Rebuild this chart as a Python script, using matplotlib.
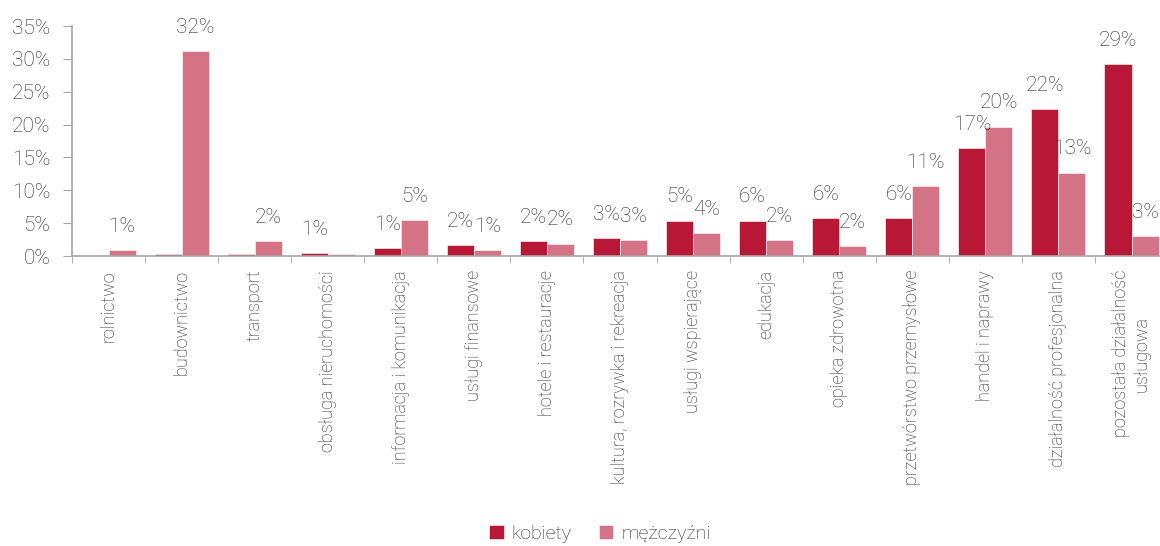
import numpy as np
import matplotlib
matplotlib.use("Agg")
import matplotlib.pyplot as plt
from matplotlib.ticker import FixedLocator, PercentFormatter

# sektory i udzial (%) wg plci
categories = [
    "rolnictwo", "budownictwo", "transport", "obsługa nieruchomości",
    "informacja i komunikacja", "usługi finansowe", "hotele i restauracje",
    "kultura, rozrywka i rekreacja", "usługi wspierające", "edukacja",
    "opieka zdrowotna", "przetwórstwo przemysłowe", "handel i naprawy",
    "działalność profesjonalna", "pozostała działalność\nusługowa",
]
kobiety = [0.0, 0.35, 0.35, 0.5, 1.2, 1.7, 2.3, 2.7, 5.4, 5.4, 5.8, 5.8, 16.4, 22.3, 29.2]
mezczyzni = [0.87, 31.2, 2.3, 0.3, 5.5, 0.9, 1.9, 2.45, 3.45, 2.4, 1.5, 10.7, 19.7, 12.7, 3.1]
kobiety_labels = ["", "", "", "1%", "1%", "2%", "2%", "3%", "5%", "6%", "6%", "6%", "17%", "22%", "29%"]
mezczyzni_labels = ["1%", "32%", "2%", "", "5%", "1%", "2%", "3%", "4%", "2%", "2%", "11%", "20%", "13%", "3%"]
yticks = [0, 5, 10, 15, 20, 25, 30, 35]

C_K = "#B81736"
C_M = "#D37385"
AXIS = "#A6A6A6"
TXT = "#2b2b2b"
FONT = ["Roboto", "DejaVu Sans"]

fig = plt.figure(figsize=(11.6, 5.46), dpi=100)
ax = fig.add_axes([72 / 1160, 1 - 256 / 546, 1 - 72 / 1160, (256 - 26) / 546])

x = np.arange(len(categories))
w = 0.37
bk = ax.bar(x - w / 2, kobiety, w, color=C_K, edgecolor="white", linewidth=0.4, label="kobiety")
bm = ax.bar(x + w / 2, mezczyzni, w, color=C_M, edgecolor="white", linewidth=0.4, label="mężczyźni")

for bars, labs in ((bk, kobiety_labels), (bm, mezczyzni_labels)):
    for b, lab in zip(bars, labs):
        if not lab:
            continue
        ax.annotate(lab, (b.get_x() + b.get_width() / 2, b.get_height()),
                    xytext=(0, 13), textcoords="offset points",
                    ha="center", va="baseline", fontsize=15, color=TXT,
                    family=FONT, fontweight="light", annotation_clip=False)

ax.set_xlim(-0.5, 14.39)
ax.set_ylim(0, 35)
ax.set_yticks(yticks)
ax.yaxis.set_major_formatter(PercentFormatter(decimals=0))
for t in ax.get_yticklabels():
    t.set_family(FONT)
    t.set_fontsize(15)
    t.set_fontweight("light")
    t.set_color(TXT)
ax.tick_params(axis="y", length=6.5, color=AXIS, pad=9)

ax.set_xticks(x)
ax.set_xticklabels(categories, rotation=90, ha="center", va="top",
                   family=FONT, fontweight="light", fontsize=13, color=TXT,
                   multialignment="center")
ax.xaxis.set_minor_locator(FixedLocator(np.arange(-0.5, 15, 1)))
ax.tick_params(axis="x", which="major", length=0, pad=10)
ax.tick_params(axis="x", which="minor", length=5, color=AXIS)

for s in ("top", "right"):
    ax.spines[s].set_visible(False)
for s in ("left", "bottom"):
    ax.spines[s].set_color(AXIS)
    ax.spines[s].set_linewidth(1.2)

fig.legend(handles=[bk, bm], labels=["kobiety", "mężczyźni"], loc="center",
           bbox_to_anchor=(0.517, 0.022), ncol=2, frameon=False,
           handlelength=0.75, handleheight=0.75, handletextpad=0.4,
           columnspacing=1.4, prop={"family": FONT, "size": 14, "weight": "light"},
           labelcolor=TXT)

fig.savefig("out.png", dpi=100)
